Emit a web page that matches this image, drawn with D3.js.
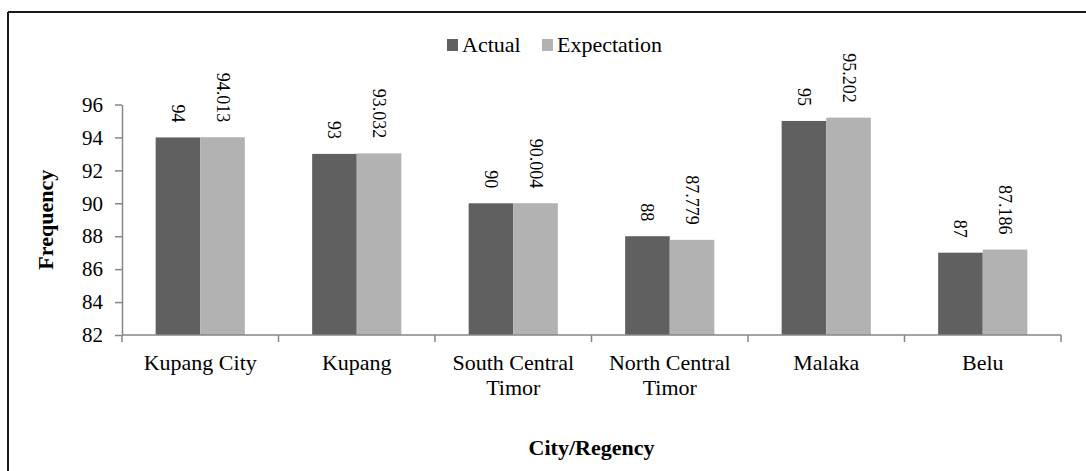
<!DOCTYPE html>
<html>
<head>
<meta charset="utf-8">
<script src="https://cdn.jsdelivr.net/npm/d3@7"></script>
<style>
  html, body { margin: 0; padding: 0; background: #fff; }
  svg { display: block; }
  svg text { font-family: "Liberation Serif", "Times New Roman", serif; }
</style>
</head>
<body>
<svg id="chart" width="1086" height="471"></svg>
<script>
// Regions and their frequencies
const categories = ["Kupang City", "Kupang", "South Central Timor", "North Central Timor", "Malaka", "Belu"];
const categoryLines = [["Kupang City"], ["Kupang"], ["South Central", "Timor"], ["North Central", "Timor"], ["Malaka"], ["Belu"]];
const actual = [94, 93, 90, 88, 95, 87];
const expectation = [94.013, 93.032, 90.004, 87.779, 95.202, 87.186];
const seriesNames = ["Actual", "Expectation"];
const yTicks = [82, 84, 86, 88, 90, 92, 94, 96];

const colors = { Actual: "#606060", Expectation: "#b2b2b2" };
const axisColor = "#868686";
const serif = "'Liberation Serif', 'Times New Roman', serif";

const svg = d3.select("#chart");

// Frame (top and left rules)
svg.append("line").attr("x1", 8).attr("x2", 1086).attr("y1", 12).attr("y2", 12)
  .attr("stroke", "#1a1a1a").attr("stroke-width", 2);
svg.append("line").attr("x1", 8).attr("x2", 8).attr("y1", 12).attr("y2", 471)
  .attr("stroke", "#1a1a1a").attr("stroke-width", 2);

const plot = { left: 122, right: 1061, top: 104.5, bottom: 335 };

const x = d3.scaleBand().domain(categories).range([plot.left, plot.right])
  .paddingInner(0.43).paddingOuter(0.215);
const xs = d3.scaleBand().domain(seriesNames).range([0, x.bandwidth()]);
const y = d3.scaleLinear().domain([82, 96]).range([plot.bottom, plot.top]);

const data = categories.map((c, i) => ({ cat: c, values: [
  { key: "Actual", value: actual[i] },
  { key: "Expectation", value: expectation[i] }
]}));

// Bars
const groups = svg.append("g").selectAll("g").data(data).join("g")
  .attr("transform", d => `translate(${x(d.cat)},0)`);
groups.selectAll("rect").data(d => d.values).join("rect")
  .attr("x", d => xs(d.key))
  .attr("width", xs.bandwidth())
  .attr("y", d => y(d.value))
  .attr("height", d => y(82) - y(d.value))
  .attr("fill", d => colors[d.key]);

// Value labels, rotated
groups.selectAll("text").data(d => d.values).join("text")
  .attr("transform", d => `translate(${xs(d.key) + xs.bandwidth() / 2},${y(d.value) - 15}) rotate(90)`)
  .attr("text-anchor", "end")
  .attr("dominant-baseline", "central")
  .style("font-family", serif)
  .attr("font-size", 18)
  .attr("fill", "#000")
  .text(d => d.value);

// Y axis
const yAxis = svg.append("g").attr("transform", `translate(${plot.left},0)`)
  .call(d3.axisLeft(y).tickValues(yTicks).tickSize(7).tickPadding(12).tickSizeOuter(0))
  .attr("font-family", serif);
yAxis.select(".domain").attr("stroke", axisColor).attr("stroke-width", 1.5);
yAxis.selectAll(".tick line").attr("stroke", axisColor).attr("stroke-width", 1.5);
yAxis.selectAll(".tick text").attr("font-size", 21).attr("fill", "#000")
  .style("font-family", serif);

// X axis: ticks at band boundaries
const boundaries = categories.map(c => x(c) - x.step() * x.paddingInner() / 2).concat([plot.right]);
const xAxisG = svg.append("g");
xAxisG.append("line").attr("x1", plot.left).attr("x2", plot.right)
  .attr("y1", plot.bottom).attr("y2", plot.bottom)
  .attr("stroke", axisColor).attr("stroke-width", 1.5);
xAxisG.selectAll("line.tk").data(boundaries).join("line").attr("class", "tk")
  .attr("x1", d => d).attr("x2", d => d)
  .attr("y1", plot.bottom).attr("y2", plot.bottom + 7)
  .attr("stroke", axisColor).attr("stroke-width", 1.5);

// Category labels
const catText = svg.append("g").selectAll("text").data(categories).join("text")
  .attr("x", d => x(d) + x.bandwidth() / 2)
  .attr("y", 370)
  .attr("text-anchor", "middle")
  .style("font-family", serif)
  .attr("font-size", 22)
  .attr("fill", "#000");
catText.each(function(d, i) {
  d3.select(this).selectAll("tspan").data(categoryLines[i]).join("tspan")
    .attr("x", x(d) + x.bandwidth() / 2)
    .attr("dy", (t, j) => j === 0 ? 0 : 25)
    .text(t => t);
});

// Axis titles
svg.append("text")
  .attr("x", (plot.left + plot.right) / 2).attr("y", 455)
  .attr("text-anchor", "middle").attr("font-size", 22).attr("font-weight", "bold")
  .style("font-family", serif)
  .text("City/Regency");
svg.append("text")
  .attr("transform", `translate(45,${(plot.top + plot.bottom) / 2}) rotate(-90)`)
  .attr("text-anchor", "middle").attr("dominant-baseline", "central")
  .attr("font-size", 22).attr("font-weight", "bold")
  .style("font-family", serif)
  .text("Frequency");

// Legend
const legendItems = [
  { key: "Actual", sx: 447, tx: 462 },
  { key: "Expectation", sx: 542, tx: 557 }
];
const legend = svg.append("g");
legend.selectAll("rect").data(legendItems).join("rect")
  .attr("x", d => d.sx).attr("y", 39).attr("width", 11).attr("height", 12)
  .attr("fill", d => colors[d.key]);
legend.selectAll("text").data(legendItems).join("text")
  .attr("x", d => d.tx).attr("y", 52)
  .style("font-family", serif)
  .attr("font-size", 22).attr("fill", "#000")
  .text(d => d.key);
</script>
</body>
</html>
